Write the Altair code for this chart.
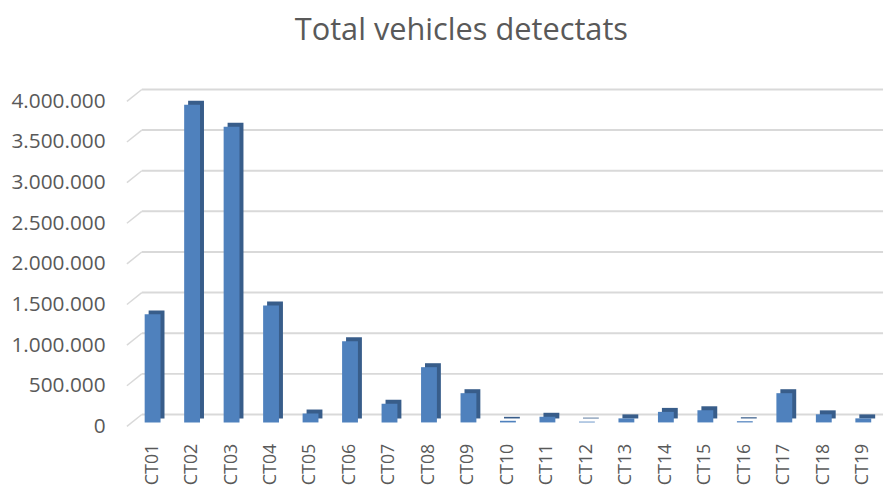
import altair as alt
import pandas as pd

categories = ["CT01", "CT02", "CT03", "CT04", "CT05", "CT06", "CT07", "CT08", "CT09", "CT10",
              "CT11", "CT12", "CT13", "CT14", "CT15", "CT16", "CT17", "CT18", "CT19"]
values = [1330000, 3910000, 3640000, 1440000, 110000, 1000000, 230000, 680000, 360000, 20000,
          70000, 10000, 50000, 130000, 150000, 15000, 360000, 100000, 50000]
tick_values = [0, 500000, 1000000, 1500000, 2000000, 2500000, 3000000, 3500000, 4000000]

df = pd.DataFrame({"cat": categories, "val": values})
grid_df = pd.DataFrame({"val": tick_values})

FONT = "Open Sans"
GREY = "#595959"
GRID = "#D9D9D9"
W, H = 757, 328

yscale = alt.Scale(domain=[0, 4000000], nice=False)
yaxis = alt.Axis(values=tick_values,
                 labelExpr="replace(replace(format(datum.value, ','), ',', '.'), ',', '.')",
                 labelFontSize=21, labelFont=FONT, labelColor=GREY, labelPadding=28,
                 ticks=False, domain=False, grid=False)

x = alt.X("cat:N", sort=categories, title=None,
          scale=alt.Scale(paddingInner=0.0, paddingOuter=0.0),
          axis=alt.Axis(labelAngle=-90, labelFontSize=18, labelFont=FONT, labelColor=GREY,
                        labelPadding=17, ticks=False, domain=False, labelAlign="right",
                        labelBaseline="middle"))
y = alt.Y("val:Q", title=None, scale=yscale, axis=yaxis)

# back-wall gridlines (3D look): diagonal from front edge + horizontal on back wall
grid_diag = alt.Chart(grid_df).mark_rule(color=GRID, strokeWidth=1.5, y2Offset=-12).encode(
    x=alt.value(-6), x2=alt.value(9), y=y, y2="val:Q")
grid_back = alt.Chart(grid_df).mark_rule(color=GRID, strokeWidth=2, yOffset=-12).encode(
    x=alt.value(9), x2=alt.value(W), y=y)

back = alt.Chart(df).mark_bar(size=16, xOffset=4, yOffset=-8, color="#385D8A").encode(
    x=x, y=y)
front = alt.Chart(df).mark_bar(size=16, yOffset=-4, color="#4F81BD").encode(x=x, y=y)

chart = alt.layer(grid_diag, grid_back, back, front).properties(
    width=W, height=H,
    title=alt.TitleParams("Total vehicles detectats", fontSize=31, font=FONT, color=GREY,
                          fontWeight="normal", anchor="middle", dx=-47, offset=42),
    padding={"left": 126, "top": 92, "right": 3, "bottom": 64},
    autosize=alt.AutoSizeParams(type="none"),
).configure_view(stroke=None)

chart.save("out.html", embed_options={"renderer": "svg", "actions": False})
